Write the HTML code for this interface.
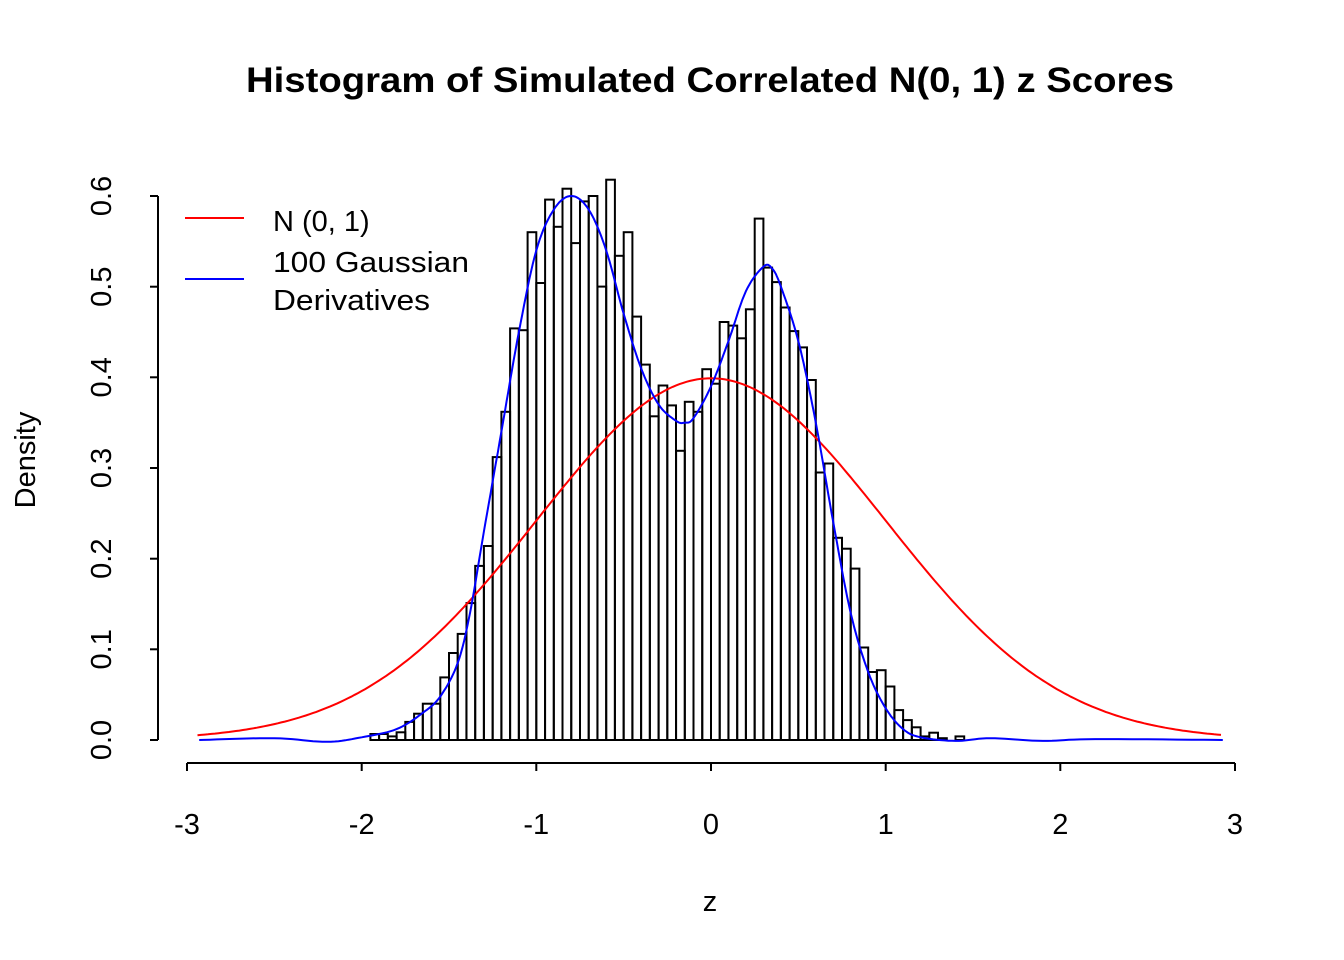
<!DOCTYPE html>
<html><head><meta charset="utf-8"><style>
html,body{margin:0;padding:0;background:#fff}
svg{display:block}
text{font-family:"Liberation Sans",Arial,sans-serif;fill:#000}
</style></head><body>
<svg id="s" width="1344" height="960" viewBox="0 0 1344 960" xmlns="http://www.w3.org/2000/svg">
<rect width="1344" height="960" fill="#fff"/>
<text x="710" y="92" font-size="35" font-weight="bold" text-anchor="middle" textLength="928" lengthAdjust="spacingAndGlyphs">Histogram of Simulated Correlated N(0, 1) z Scores</text>
<g id="bars" fill="none" stroke="#000" stroke-width="2"></g>
<path id="red" fill="none" stroke="#ff0000" stroke-width="2"/>
<path id="blue" fill="none" stroke="#0000ff" stroke-width="2"/>
<g stroke="#000" stroke-width="2" fill="none">
<line x1="158" y1="196" x2="158" y2="740"/>
<line x1="150" y1="740" x2="158" y2="740"/>
<line x1="150" y1="649.3" x2="158" y2="649.3"/>
<line x1="150" y1="558.7" x2="158" y2="558.7"/>
<line x1="150" y1="468" x2="158" y2="468"/>
<line x1="150" y1="377.3" x2="158" y2="377.3"/>
<line x1="150" y1="286.7" x2="158" y2="286.7"/>
<line x1="150" y1="196" x2="158" y2="196"/>
<line x1="187" y1="763" x2="1235" y2="763"/>
<line x1="187" y1="763" x2="187" y2="771"/>
<line x1="361.7" y1="763" x2="361.7" y2="771"/>
<line x1="536.3" y1="763" x2="536.3" y2="771"/>
<line x1="711" y1="763" x2="711" y2="771"/>
<line x1="885.7" y1="763" x2="885.7" y2="771"/>
<line x1="1060.3" y1="763" x2="1060.3" y2="771"/>
<line x1="1235" y1="763" x2="1235" y2="771"/>
</g>
<g font-size="29" text-anchor="middle">
<text transform="translate(111,740) rotate(-90)">0.0</text>
<text transform="translate(111,649.3) rotate(-90)">0.1</text>
<text transform="translate(111,558.7) rotate(-90)">0.2</text>
<text transform="translate(111,468) rotate(-90)">0.3</text>
<text transform="translate(111,377.3) rotate(-90)">0.4</text>
<text transform="translate(111,286.7) rotate(-90)">0.5</text>
<text transform="translate(111,196) rotate(-90)">0.6</text>
<text x="187" y="834">-3</text>
<text x="361.7" y="834">-2</text>
<text x="536.3" y="834">-1</text>
<text x="711" y="834">0</text>
<text x="885.7" y="834">1</text>
<text x="1060.3" y="834">2</text>
<text x="1235" y="834">3</text>
<text x="710" y="911">z</text>
<text transform="translate(35,460) rotate(-90)">Density</text>
</g>
<line x1="185" y1="218" x2="244" y2="218" stroke="#ff0000" stroke-width="2"/>
<line x1="185" y1="279" x2="244" y2="279" stroke="#0000ff" stroke-width="2"/>
<g font-size="29">
<text x="273" y="231">N (0, 1)</text>
<text x="273" y="272" textLength="196" lengthAdjust="spacingAndGlyphs">100 Gaussian</text>
<text x="273" y="310" textLength="157" lengthAdjust="spacingAndGlyphs">Derivatives</text>
</g>
</svg>
<script>
(function(){
var X=function(z){return 711+z*174.667;}, Y=function(d){return 740-d*906.7;};
var v=[0.0066,0.0066,0.004,0.0085,0.020,0.029,0.040,0.040,0.069,0.096,0.117,0.151,0.192,0.214,0.312,0.362,
0.454,0.452,0.560,0.504,0.596,0.566,0.608,0.548,0.594,0.600,0.500,0.618,0.534,0.560,0.467,0.414,0.357,
0.391,0.369,0.319,0.373,0.362,0.409,0.393,0.461,0.457,0.443,0.475,0.575,0.521,0.505,0.477,0.451,0.433,0.397,0.295,0.305,0.223,0.211,0.189,0.102,0.075,0.077,0.059,0.033,0.022,0.014,0.004,0.008,0.002,0,0.004];
var g=document.getElementById('bars'),s='';
for(var i=0;i<v.length;i++){if(v[i]<=0)continue;var x0=X(-1.95+i*0.05),x1=X(-1.9+i*0.05),y=Y(v[i]);
s+='<rect x="'+x0.toFixed(1)+'" y="'+y.toFixed(1)+'" width="'+(x1-x0).toFixed(1)+'" height="'+(740-y).toFixed(1)+'"/>';}
g.innerHTML=s;
var p='';for(var z=-2.94;z<=2.94;z+=0.02){var d=Math.exp(-z*z/2)/Math.sqrt(2*Math.PI);p+=(p?'L':'M')+X(z).toFixed(1)+','+Y(d).toFixed(1);}
document.getElementById('red').setAttribute('d',p);
var P=[[-2.93,0.0],[-2.5,0.002],[-2.2,-0.002],[-2.0,0.003],[-1.8,0.012],[-1.65,0.03],[-1.55,0.048],[-1.45,0.085],[-1.38,0.14],[-1.3,0.23],[-1.2,0.34],[-1.1,0.45],[-1.0,0.54],[-0.9,0.585],[-0.8,0.6],[-0.7,0.585],[-0.6,0.54],[-0.5,0.47],[-0.4,0.41],[-0.3,0.37],[-0.2,0.352],[-0.15,0.35],[-0.1,0.355],[0,0.39],[0.1,0.44],[0.2,0.495],[0.3,0.522],[0.35,0.52],[0.4,0.5],[0.5,0.44],[0.6,0.35],[0.7,0.24],[0.8,0.14],[0.9,0.075],[1.0,0.035],[1.1,0.012],[1.2,0.003],[1.4,-0.001],[1.6,0.002],[1.9,-0.001],[2.2,0.001],[2.93,0.0]];
var q='M'+X(P[0][0]).toFixed(1)+','+Y(P[0][1]).toFixed(1);
for(var i=0;i<P.length-1;i++){var a=P[Math.max(0,i-1)],b=P[i],c=P[i+1],e=P[Math.min(P.length-1,i+2)];
for(var t=0.1;t<=1.001;t+=0.1){var t2=t*t,t3=t2*t;
var f=function(k){return 0.5*((2*b[k])+(-a[k]+c[k])*t+(2*a[k]-5*b[k]+4*c[k]-e[k])*t2+(-a[k]+3*b[k]-3*c[k]+e[k])*t3);};
q+='L'+X(f(0)).toFixed(1)+','+Y(f(1)).toFixed(1);}}
document.getElementById('blue').setAttribute('d',q);
})();
</script>
</body></html>
